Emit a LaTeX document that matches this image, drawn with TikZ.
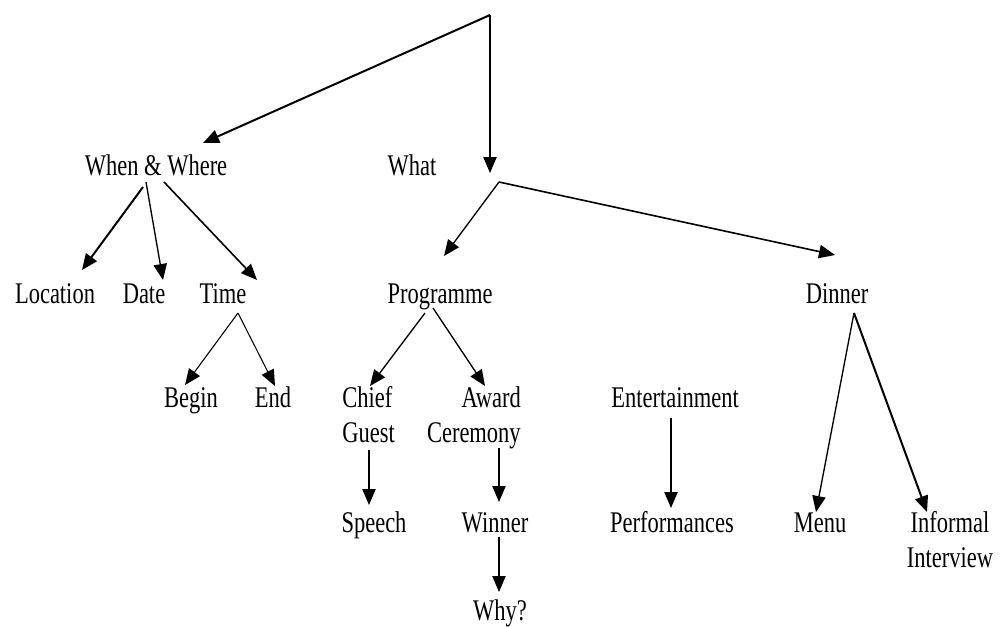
\documentclass[tikz,border=0pt]{standalone}
\usepackage{fontspec}
\setmainfont{Liberation Serif}[FakeStretch=0.75]
\usetikzlibrary{arrows.meta}
\begin{document}
\begin{tikzpicture}[x=0.75pt,y=-0.75pt,
  lbl/.style={inner sep=0pt,anchor=base,font=\fontsize{22.5pt}{26.25pt}\selectfont},
  arr/.style={-{Triangle[length=12pt,width=10pt]},line width=1pt,black},
  thk/.style={line width=1.5pt}]
\useasboundingbox (0,0) rectangle (1007,626);
% nodes
\node[lbl] (ww) at (156,175) {When \& Where};
\node[lbl] (what) at (412,175) {What};
\node[lbl] (loc) at (55,303) {Location};
\node[lbl] (date) at (144,303) {Date};
\node[lbl] (time) at (223,303) {Time};
\node[lbl] (prog) at (440,303) {Programme};
\node[lbl] (dinner) at (837,303) {Dinner};
\node[lbl] (begin) at (191,407) {Begin};
\node[lbl] (end) at (273,407) {End};
\node[lbl,anchor=base west] (chief) at (342,407) {\begin{tabular}[t]{@{}l@{}}Chief\\Guest\end{tabular}};
\node[lbl,anchor=base east] (award) at (521,407) {\begin{tabular}[t]{@{}r@{}}Award\\Ceremony\end{tabular}};
\node[lbl] (ent) at (675,407) {Entertainment};
\node[lbl] (speech) at (374,532) {Speech};
\node[lbl] (winner) at (495,532) {Winner};
\node[lbl] (why) at (500,620) {Why?};
\node[lbl] (perf) at (672,532) {Performances};
\node[lbl] (menu) at (820,532) {Menu};
\node[lbl] (inf) at (950,532) {\begin{tabular}[t]{@{}c@{}}Informal\\Interview\end{tabular}};
% free points
\coordinate (root) at (490,15);
\coordinate (split) at (499,182);
% connectors
\draw[arr,thk] (root) -- ([shift={(47,-32)}]ww.base);
\draw[arr] (root) -- ([shift={(78,-2)}]what.base);
\draw[arr] (split) -- ([shift={(4,-47)}]prog.base);
\draw[arr,line width=1.2pt] (split) -- ([shift={(-2,-48)}]dinner.base);
\draw[arr,thk] ([shift={(-13,12)}]ww.base) -- ([shift={(27,-33)}]loc.base);
\draw[arr] ([shift={(-10,7)}]ww.base) -- ([shift={(19,-23)}]date.base);
\draw[arr,line width=1.2pt] ([shift={(8,7)}]ww.base) -- ([shift={(34,-23)}]time.base);
\draw[arr,line width=0.8pt] ([shift={(15,10)}]time.base) -- ([shift={(-6,-22)}]begin.base);
\draw[arr,line width=0.8pt] ([shift={(15,10)}]time.base) -- ([shift={(2,-21)}]end.base);
\draw[arr] ([shift={(-15,10)}]prog.base) -- ([shift={(28,-21)}]chief.base west);
\draw[arr] ([shift={(-7,5)}]prog.base) -- ([shift={(-36,-21)}]award.base east);
\draw[arr] ([shift={(27,43)}]chief.base west) -- ([shift={(-5,-27)}]speech.base);
\draw[arr] ([shift={(-22,41)}]award.base east) -- ([shift={(4,-30)}]winner.base);
\draw[arr] ([shift={(4,5)}]winner.base) -- ([shift={(-1,-28)}]why.base);
\draw[arr] ([shift={(-4,11)}]ent.base) -- ([shift={(-1,-24)}]perf.base);
\draw[arr] ([shift={(17,10)}]dinner.base) -- ([shift={(-4,-20)}]menu.base);
\draw[arr,thk] ([shift={(17,10)}]dinner.base) -- ([shift={(-23,-20)}]inf.base);
\end{tikzpicture}
\end{document}
